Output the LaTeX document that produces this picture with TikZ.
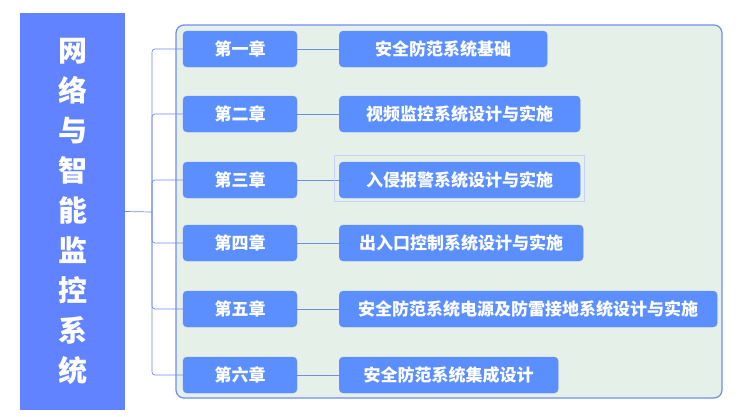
\documentclass[tikz,border=0pt]{standalone}
\usepackage{fontspec}
\newfontfamily\cjk{Noto Sans CJK SC}
\usetikzlibrary{positioning}
\definecolor{chapblue}{HTML}{5B8FFF}
\definecolor{titleblue}{HTML}{6283FF}
\definecolor{frameblue}{HTML}{6F8CF5}
\definecolor{panel}{HTML}{E5F0E8}
\tikzstyle{chapter} = [rectangle, rounded corners=4pt, draw=frameblue, fill=chapblue,
	minimum width=114pt, minimum height=36pt, text=white, font=\cjk\bfseries\fontsize{17}{20}\selectfont]
\tikzstyle{topic} = [rectangle, rounded corners=4pt, draw=frameblue, fill=chapblue,
	minimum height=36pt, text=white, font=\cjk\bfseries\fontsize{17}{20}\selectfont, anchor=west]
\tikzstyle{link} = [draw=frameblue, line width=0.7pt]
\begin{document}
\begin{tikzpicture}[x=1pt, y=-1pt]
	\useasboundingbox (0,0) rectangle (746,416);
	% panel and title
	\draw [frameblue, fill=panel, line width=1.2pt, rounded corners=8pt] (176,25) rectangle (722,398);
	\node (title) [rectangle, fill=titleblue, minimum width=105pt, minimum height=397pt, text=white,
		font=\cjk\bfseries\fontsize{29}{40}\selectfont, align=center] at (72.5,211.5)
		{网\\络\\与\\智\\能\\监\\控\\系\\统};
	\coordinate (fork) at (152,212);
	\draw [link] (title.east) -- (fork);

	% chapters and topics
	\foreach \y/\c/\t/\w [count=\i] in {49/第一章/安全防范系统基础/208,
		114/第二章/视频监控系统设计与实施/241,
		180/第三章/入侵报警系统设计与实施/241,
		243/第四章/出入口控制系统设计与实施/244,
		309/第五章/安全防范系统电源及防雷接地系统设计与实施/378,
		375/第六章/安全防范系统集成设计/219} {
		\node (chap\i) [chapter] at (240,\y) {\c};
		\node (topic\i) [topic, minimum width=\w pt] at (339,\y) {\t};
		\draw [link] (chap\i) -- (topic\i);
		\draw [link, rounded corners=3pt] (fork) -- (152,\y) -- (chap\i.west);
	}
	\draw [draw=frameblue!40, line width=1pt] (334,155) rectangle (584,201);
\end{tikzpicture}
\end{document}
